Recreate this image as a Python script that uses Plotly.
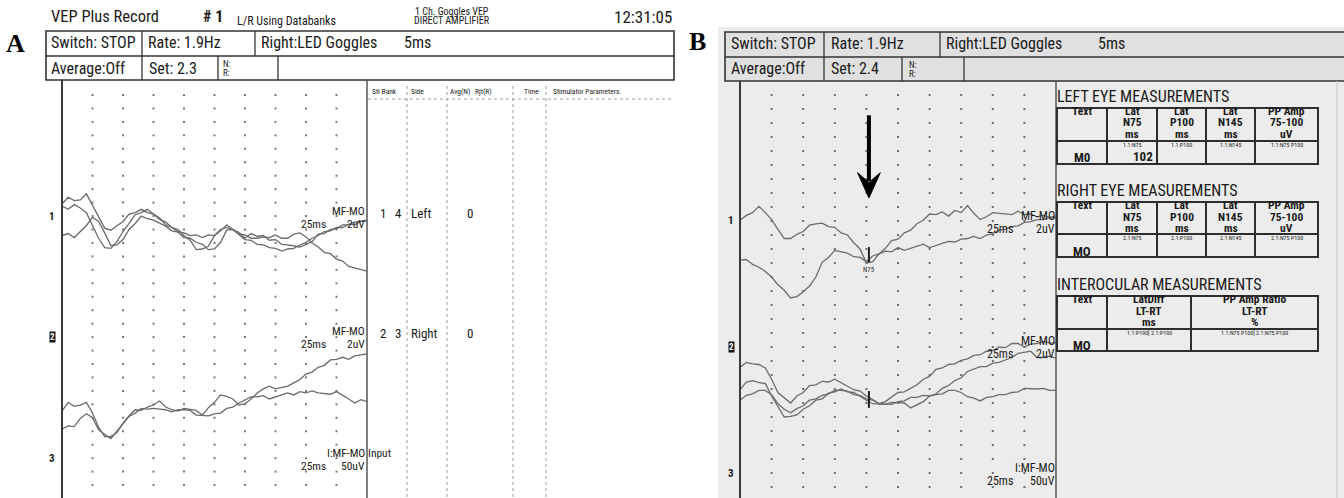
import numpy as np
import plotly.graph_objects as go

# ---------------------------------------------------------------
# Recorded VEP sweeps, sampled every 5 ms over a 250 ms window (uV)
# ---------------------------------------------------------------
time_ms = list(range(0, 251, 5))

# Set 2.3 - channel 1 (left eye), three sweeps
set23_ch1_sweep1 = [1.8, 2.8, 2.3, 2.4, 3.3, 1.6, 0.1, -1.8, -2.1, -1.4, -0.8, 0.3, 0.5, 1.0, 0.5, 0.3, -0.5,
                    -0.9, -1.7, -2.0, -2.9, -3.6, -5.0, -4.9, -4.5, -2.9, -2.2, -1.3, -2.0, -2.4, -3.3, -2.6,
                    -3.0, -2.9, -3.6, -3.5, -4.2, -4.3, -4.5, -4.6, -4.2, -3.8, -2.7, -2.6, -2.0, -1.9, -1.3,
                    -1.3, -0.9, -0.8, -0.6]
set23_ch1_sweep2 = [1.5, 1.0, 1.7, 1.2, 0.5, -1.4, -3.3, -4.7, -4.8, -3.8, -2.3, -1.1, 0.2, 0.5, 1.0, 0.3, -0.3,
                    -1.3, -1.7, -2.3, -2.5, -2.9, -2.8, -3.2, -2.8, -2.9, -2.0, -1.7, -2.0, -2.7, -2.8, -3.3,
                    -3.3, -3.1, -3.2, -2.8, -3.3, -3.3, -2.7, -2.5, -3.1, -4.0, -4.6, -5.4, -5.6, -6.4, -6.7,
                    -7.5, -7.7, -8.0, -8.2]
set23_ch1_sweep3 = [-2.9, -2.6, -3.2, -2.3, -1.4, -0.2, -0.8, -2.5, -4.4, -4.3, -3.5, -2.0, -1.1, 0.0, -0.4,
                    -0.6, -1.1, -1.5, -2.2, -2.4, -3.2, -3.3, -3.9, -4.2, -5.0, -4.9, -3.9, -2.1, -2.0, -2.7,
                    -3.5, -3.6, -4.2, -4.3, -4.7, -4.8, -5.2, -4.9, -4.8, -4.3, -3.9, -3.3, -2.9, -2.3, -2.2,
                    -1.7, -1.7, -1.2, -1.3, -0.8, -0.7]
# Set 2.3 - channel 2 (right eye), two sweeps
set23_ch2_sweep1 = [-11.0, -9.7, -10.3, -10.1, -9.7, -11.3, -13.4, -14.8, -14.8, -14.2, -12.8, -11.7, -10.8,
                    -10.9, -10.4, -10.1, -9.5, -10.4, -10.8, -11.0, -10.6, -10.8, -10.9, -11.6, -10.5, -9.7,
                    -8.6, -8.8, -9.2, -10.1, -9.9, -9.2, -8.3, -7.7, -7.3, -7.7, -7.5, -7.3, -6.8, -6.3, -5.5,
                    -5.2, -4.5, -4.2, -3.4, -3.3, -3.0, -3.3, -2.8, -2.7, -2.5]
set23_ch2_sweep2 = [-13.7, -13.2, -13.3, -12.1, -11.4, -12.0, -13.8, -14.5, -15.1, -14.0, -12.9, -11.8, -11.3,
                    -10.6, -10.7, -10.6, -10.7, -10.8, -11.1, -10.8, -10.8, -10.9, -11.6, -11.7, -11.7, -11.4,
                    -11.3, -10.6, -10.4, -9.8, -9.4, -8.9, -8.9, -8.7, -9.2, -8.9, -8.6, -8.3, -8.6, -8.1,
                    -8.3, -8.0, -8.3, -8.4, -8.5, -8.1, -8.6, -9.2, -9.8, -9.3, -9.6]

# Set 2.4 - channel 1 (left eye), two sweeps
set24_ch1_sweep1 = [0.1, 0.8, 1.2, 2.1, 1.2, 0.2, -1.2, -2.5, -2.5, -1.9, -1.5, -0.6, -0.4, -0.3, -0.8, -0.9,
                    -1.7, -2.0, -3.1, -4.0, -6.0, -5.8, -4.7, -3.9, -2.8, -2.6, -1.7, -1.3, -0.4, 0.1, 1.0, 0.9,
                    1.3, 0.7, 1.5, 1.2, 2.2, 1.1, 0.2, 0.6, 1.2, 1.1, 1.1, 0.9, 1.4, 0.9, 1.0, 0.6, 0.8, 0.5, 0.7]
set24_ch1_sweep2 = [-5.6, -5.5, -6.2, -6.6, -7.2, -8.0, -9.1, -9.9, -11.0, -10.8, -10.1, -9.3, -8.0, -5.9, -5.2,
                    -4.2, -4.4, -4.6, -5.1, -5.2, -5.8, -5.0, -4.7, -4.3, -4.4, -3.8, -4.2, -3.9, -3.7, -3.3,
                    -3.8, -3.5, -3.2, -2.9, -3.0, -2.6, -2.5, -2.2, -2.5, -2.0, -1.8, -1.3, -1.2, -0.8, -0.7,
                    -0.2, -0.1, 0.2, 0.2, 0.5, 0.4]
# Set 2.4 - channel 2 (right eye), three sweeps
set24_ch2_sweep1 = [-2.9, -2.2, -2.4, -2.5, -3.0, -4.6, -6.5, -7.2, -8.0, -7.0, -6.5, -5.5, -5.4, -4.9, -5.0,
                    -4.6, -5.1, -5.5, -6.1, -6.3, -7.0, -7.5, -8.1, -7.8, -7.2, -6.5, -6.4, -5.9, -5.4, -4.6,
                    -4.2, -3.2, -3.0, -2.5, -2.4, -1.9, -1.7, -1.2, -1.1, -0.6, -0.5, 0.0, -0.1, 0.5, 0.5, 0.0,
                    0.4, 0.5, 0.8, 0.6, 0.6]
set24_ch2_sweep2 = [-6.1, -5.0, -4.8, -5.1, -5.2, -7.0, -8.5, -10.0, -9.9, -9.7, -8.9, -8.4, -7.6, -7.4, -6.6,
                    -6.4, -6.0, -6.4, -6.5, -7.1, -7.6, -8.1, -8.2, -8.2, -7.9, -8.0, -8.0, -8.7, -8.3, -7.8,
                    -7.0, -6.7, -5.9, -5.5, -4.8, -4.4, -3.5, -3.2, -2.8, -2.8, -2.3, -2.2, -1.8, -1.5, -0.9,
                    -0.7, -0.6, -1.5, -1.5, -1.3, -1.6]
set24_ch2_sweep3 = [-7.6, -6.9, -6.7, -6.2, -6.2, -6.8, -8.1, -8.9, -9.4, -8.8, -8.4, -7.6, -7.4, -6.9, -6.7,
                    -6.2, -6.2, -6.3, -6.8, -6.9, -7.4, -7.6, -8.1, -8.2, -8.2, -7.8, -7.7, -7.2, -7.2, -6.9,
                    -7.0, -6.8, -6.7, -6.2, -6.2, -6.5, -7.1, -7.3, -7.7, -7.2, -7.1, -6.8, -6.8, -6.5, -6.4,
                    -5.9, -6.0, -6.0, -5.9, -6.2, -6.2]

n75_latency_ms = 102          # left-eye N75 latency, set 2.4
uv_per_div = 2                # display sensitivity
grid_ms = [25, 50, 75, 100, 125, 150, 175, 200, 225]

# ---------------------------------------------------------------
# Page geometry and styling
# ---------------------------------------------------------------
W, H = 1344, 498
COND = "Roboto Condensed, Liberation Sans, sans-serif"
SERIF = "Liberation Serif, Times New Roman, serif"
INK = "#1a1a1a"

# channel rows (in divisions below the first dotted row)
CH_ROW = {1: -9, 2: -18, 3: -27}

A_DIV = 13.45   # left screen: px per division, first dotted row at y=95
B_DIV = 14.0    # right screen: px per division, first dotted row at y=95


def px(x):
    return x / W


def py(y):
    return 1 - y / H


shapes = []
annotations = []


def seg(x0, y0, x1, y1, color="#333", width=1.5, dash=None, layer="above"):
    line = dict(color=color, width=width)
    if dash:
        line["dash"] = dash
    shapes.append(dict(type="line", xref="paper", yref="paper", x0=px(x0), y0=py(y0),
                       x1=px(x1), y1=py(y1), line=line, layer=layer))


def rect(x0, y0, x1, y1, fill=None, color="#333", width=1.5, layer="above"):
    shapes.append(dict(type="rect", xref="paper", yref="paper", x0=px(x0), y0=py(y0),
                       x1=px(x1), y1=py(y1), line=dict(color=color, width=width),
                       fillcolor=fill or "rgba(0,0,0,0)", layer=layer))


def text(x, y, s, size=13, anchor="left", color=INK, family=COND, bold=False, bg=None):
    a = dict(x=px(x), y=py(y), xref="paper", yref="paper", text=(f"<b>{s}</b>" if bold else s),
             showarrow=False, xanchor=anchor, yanchor="middle",
             font=dict(family=family, size=size, color=color), borderpad=0)
    if bg:
        a["bgcolor"] = bg
    annotations.append(a)


# ---------------- panel backgrounds ----------------
rect(718, 27, 1344, 498, fill="#ececec", width=0, color="rgba(0,0,0,0)", layer="below")

# ---------------- panel letters ----------------
text(15, 44, "A", size=26, anchor="center", family=SERIF, bold=True, color="#000")
text(697, 42, "B", size=26, anchor="center", family=SERIF, bold=True, color="#000")

# ---------------- left screen header ----------------
text(50, 17, "VEP Plus Record", 16.5)
text(202, 17, "# 1", 16, bold=True)
text(236, 21, "L/R Using Databanks", 12)
text(452, 11, "1 Ch. Goggles VEP", 10, anchor="center")
text(452, 20, "DIRECT AMPLIFIER", 10, anchor="center")
text(673, 17, "12:31:05", 17, anchor="right")

rect(46, 31, 674, 80, color="#333", width=1.6)
seg(46, 56, 674, 56, width=1.4)
for xd in (142, 255):
    seg(xd, 31, xd, 56, width=1.3)
for xd in (142, 218, 278):
    seg(xd, 56, xd, 80, width=1.3)
text(50, 43, "Switch: STOP", 16)
text(147, 43, "Rate: 1.9Hz", 16)
text(260, 43, "Right:LED Goggles", 16)
text(403, 43, "5ms", 16)
text(50, 68, "Average:Off", 16)
text(148, 68, "Set: 2.3", 16)
text(222, 64, "N:", 9)
text(222, 73, "R:", 9)

# left screen frame
seg(62, 80, 62, 498, color="#3a3a3a", width=2)
seg(367, 80, 367, 498, color="#555", width=1.5)

# left screen side table
for label, xl in (("Stl Bank", 371), ("Side", 410), ("Avg(N)", 449), ("Rjt(R)", 474),
                  ("Time", 523), ("Stimulator Parameters.", 552)):
    text(xl, 92, label, 7.5)
seg(368, 99, 672, 99, color="#9a9a9a", width=1, dash="dot")
for xd in (407, 447, 513, 546):
    seg(xd, 86, xd, 498, color="#a0a0a0", width=1, dash="dot")
for row_y, bank, side in ((213, ("1", "4"), "Left"), (333, ("2", "3"), "Right")):
    text(379, row_y, bank[0], 13)
    text(394, row_y, bank[1], 13)
    text(410, row_y, side, 13)
    text(466, row_y, "0", 13)

# ---------------- right screen header ----------------
rect(725, 32, 1350, 81, fill="#e0e0e0", color="#333", width=1.6)
seg(725, 57, 1350, 57, width=1.4)
for xd in (824, 940):
    seg(xd, 32, xd, 57, width=1.3)
for xd in (824, 902, 964):
    seg(xd, 57, xd, 81, width=1.3)
text(730, 44, "Switch: STOP", 16)
text(830, 44, "Rate: 1.9Hz", 16)
text(945, 44, "Right:LED Goggles", 16)
text(1097, 44, "5ms", 16)
text(730, 69, "Average:Off", 16)
text(830, 69, "Set: 2.4", 16)
text(908, 65, "N:", 9)
text(908, 74, "R:", 9)

seg(740, 81, 740, 498, color="#3a3a3a", width=2)
seg(1056, 81, 1056, 498, color="#555", width=1.5)
seg(1337, 81, 1337, 498, color="#c8c8c8", width=1)

# ---------------- channel numbers and trace captions ----------------
for x_lab, pdiv, right_x, ms_x, fs in ((52, A_DIV, 366, 300, 11.5), (731, B_DIV, 1056, 986, 12)):
    ys = {c: 95 - CH_ROW[c] * pdiv for c in CH_ROW}
    text(x_lab, ys[1], "1", 11, anchor="center", bold=True)
    text(x_lab, ys[2], "2", 9, anchor="center", bold=True, color="#fff", bg="#111")
    text(x_lab, ys[3], "3", 11, anchor="center", bold=True)
    for yc, top, sens in ((ys[1] - 5, "MF-MO", "2uV"), (ys[2] - 6, "MF-MO", "2uV"),
                          (ys[3] - 5, "I:MF-MO", "50uV")):
        text(right_x, yc, top, fs, anchor="right")
        text(ms_x, yc + 13, "25ms", fs)
        text(right_x, yc + 13, sens, fs, anchor="right")
text(367, 95 - CH_ROW[3] * A_DIV - 5, "Input", 11.5)


# ---------------- measurement tables (right screen) ----------------
def meas_table(top, split, bottom, cols, heads, tiny, row_name):
    rect(cols[0], top, cols[-1], bottom, color="#2e2e2e", width=2)
    seg(cols[0], split, cols[-1], split, color="#2e2e2e", width=2)
    for xd in cols[1:-1]:
        seg(xd, top, xd, bottom, color="#2e2e2e", width=2)
    for i, lines in enumerate(heads):
        cx = (cols[i] + cols[i + 1]) / 2
        for k, s in enumerate(lines):
            text(cx, top + 3 + 11.5 * k, s, 11.5, anchor="center", bold=True)
    for i, s in enumerate(tiny):
        cx = (cols[i + 1] + cols[i + 2]) / 2
        text(cx, split + 3.5, s, 6, anchor="center")
    text((cols[0] + cols[1]) / 2, bottom - 6, row_name, 13, anchor="center", bold=True)


cols5 = [1057, 1107, 1157, 1206, 1255, 1318]
lat_heads = [["Text"], ["Lat", "N75", "ms"], ["Lat", "P100", "ms"], ["Lat", "N145", "ms"],
             ["PP Amp", "75-100", "uV"]]
text(1056, 97, "LEFT EYE MEASUREMENTS", 16)
meas_table(108, 141, 164, cols5, lat_heads,
           ["1.1:N75", "1.1:P100", "1.1:N145", "1.1:N75 P100"], "M0")
text(cols5[2] - 3, 156, str(n75_latency_ms), 13, anchor="right", bold=True)

text(1056, 190, "RIGHT EYE MEASUREMENTS", 16)
meas_table(202, 234, 257, cols5, lat_heads,
           ["2.1:N75", "2.1:P100", "2.1:N145", "2.1:N75 P100"], "MO")

text(1056, 284, "INTEROCULAR MEASUREMENTS", 16)
meas_table(296, 329, 351, [1057, 1107, 1191, 1318],
           [["Text"], ["LatDiff", "LT-RT", "ms"], ["PP Amp Ratio", "LT-RT", "%"]],
           ["1.1:P100] 2.1:P100", "1.1:N75 P100] 2.1:N75 P100"], "MO")

# ---------------- traces ----------------
fig = go.Figure()

grid_rows_a = list(range(0, -30, -1))
grid_rows_b = list(range(0, -29, -1))
for rows, xa, ya, col in ((grid_rows_a, "x", "y", "#7a7a7a"), (grid_rows_b, "x2", "y2", "#6e6e6e")):
    gx = [t for r in rows for t in grid_ms]
    gy = [r for r in rows for _ in grid_ms]
    fig.add_trace(go.Scatter(x=gx, y=gy, mode="markers", xaxis=xa, yaxis=ya, hoverinfo="skip",
                             marker=dict(symbol="square", size=2, color=col, line=dict(width=0))))


def sweep(values, ch, xa, ya, color):
    y = [CH_ROW[ch] + v / uv_per_div for v in values]
    fig.add_trace(go.Scatter(x=time_ms, y=y, mode="lines", xaxis=xa, yaxis=ya,
                             line=dict(color=color, width=1.3), hoverinfo="skip"))


for s in (set23_ch1_sweep1, set23_ch1_sweep2, set23_ch1_sweep3):
    sweep(s, 1, "x", "y", "#6a6a6a")
for s in (set23_ch2_sweep1, set23_ch2_sweep2):
    sweep(s, 2, "x", "y", "#6a6a6a")
for s in (set24_ch1_sweep1, set24_ch1_sweep2):
    sweep(s, 1, "x2", "y2", "#6c6c6c")
for s in (set24_ch2_sweep1, set24_ch2_sweep2, set24_ch2_sweep3):
    sweep(s, 2, "x2", "y2", "#6c6c6c")

# N75 cursor on channel 1 and matching cursor on channel 2
n75_val = CH_ROW[1] + float(np.interp(n75_latency_ms, time_ms, set24_ch1_sweep1)) / uv_per_div
ch2_val = CH_ROW[2] + float(np.mean([np.interp(n75_latency_ms, time_ms, s) for s in
                                      (set24_ch2_sweep1, set24_ch2_sweep2, set24_ch2_sweep3)])) / uv_per_div
for y0, y1 in ((n75_val, n75_val + 1.1), (ch2_val - 0.6, ch2_val + 0.6)):
    shapes.append(dict(type="line", xref="x2", yref="y2", x0=n75_latency_ms, x1=n75_latency_ms,
                       y0=y0, y1=y1, line=dict(color="#222", width=2)))
annotations.append(dict(x=n75_latency_ms, y=n75_val - 0.55, xref="x2", yref="y2", text="N75",
                        showarrow=False, font=dict(family=COND, size=7, color="#333")))

# arrow pointing at the N75 trough
a_top, a_head, a_tip = -1.45, -5.55, -7.35
shapes.append(dict(type="line", xref="x2", yref="y2", x0=n75_latency_ms, x1=n75_latency_ms,
                   y0=a_top, y1=a_head - 0.6, line=dict(color="#000", width=4)))
hw = 9.0
shapes.append(dict(type="path", xref="x2", yref="y2",
                   path=(f"M {n75_latency_ms - hw},{a_head} L {n75_latency_ms},{a_tip} "
                         f"L {n75_latency_ms + hw},{a_head} L {n75_latency_ms},{a_head - 0.7} Z"),
                   fillcolor="#000", line=dict(color="#000", width=1)))

fig.update_layout(
    width=W, height=H, margin=dict(l=0, r=0, t=0, b=0),
    paper_bgcolor="#ffffff", plot_bgcolor="rgba(0,0,0,0)", showlegend=False,
    xaxis=dict(domain=[px(62), px(367)], range=[0, 250], visible=False, fixedrange=True),
    yaxis=dict(domain=[0, py(80)], range=[-(498 - 95) / A_DIV, (95 - 80) / A_DIV],
               visible=False, fixedrange=True),
    xaxis2=dict(domain=[px(740), px(1056)], range=[0, 250], visible=False, anchor="y2",
                fixedrange=True),
    yaxis2=dict(domain=[0, py(81)], range=[-(498 - 95) / B_DIV, (95 - 81) / B_DIV],
                visible=False, anchor="x2", fixedrange=True),
    shapes=shapes, annotations=annotations,
)

fig.write_html("out.html")
